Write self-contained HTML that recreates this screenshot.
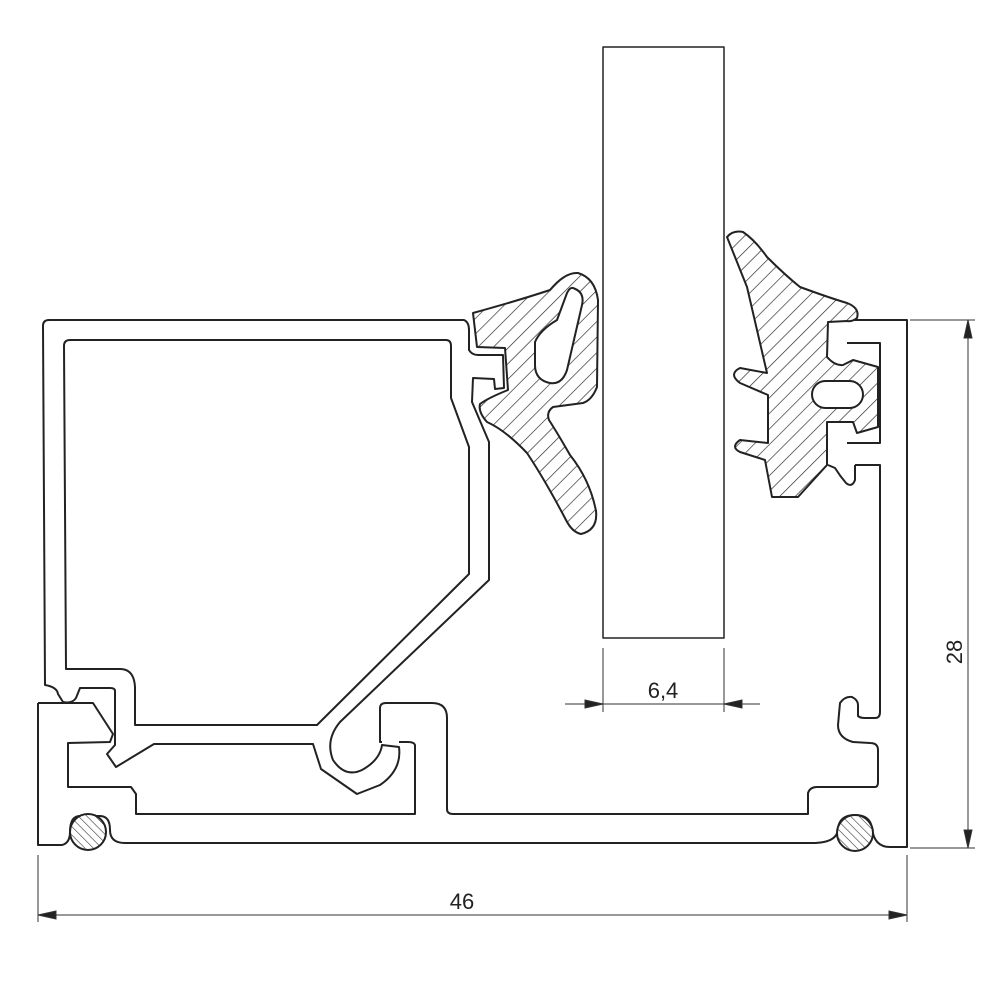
<!DOCTYPE html>
<html><head><meta charset="utf-8"><style>
html,body{margin:0;padding:0;background:#fff;}
svg{display:block;}
text{font-family:"Liberation Sans",sans-serif;fill:#222;}
</style></head><body>
<svg width="1000" height="1000" viewBox="0 0 1000 1000" xmlns="http://www.w3.org/2000/svg">
<defs>
<pattern id="h1" patternUnits="userSpaceOnUse" width="11" height="11" patternTransform="rotate(45)">
<rect width="11" height="11" fill="#fff"/><line x1="0" y1="0" x2="0" y2="11" stroke="#222" stroke-width="1.3"/></pattern>
<pattern id="h2" patternUnits="userSpaceOnUse" width="6" height="6" patternTransform="rotate(-45)">
<rect width="6" height="6" fill="#fff"/><line x1="0" y1="0" x2="0" y2="6" stroke="#222" stroke-width="1.1"/></pattern>
</defs>
<g fill="none" stroke="#222" stroke-width="2" stroke-linejoin="round">
<!-- glass -->
<rect x="603" y="47" width="121" height="591" stroke-width="1.5"/>
<!-- left chamber outer -->
<path d="M45,685 L43,326 Q43,320 49,320 L464,320 Q469,322 469,330 L469,350 Q472,355 478,355 L503,355 L504,388 L495,389 L494,379 L473,378 L472,402 L489,442 L489,580 L340,722 Q325,740 333,760 Q345,778 362,770 Q380,760 382,745 L399,747 Q402,770 380,785 L357,794 L321,769 L313,744 L154,744 L116,767 L107,754 L115,745 L115,691 Q115,688 110,688 L80,688 L76,698 Q72,704 63,702 L58,694 Q57,687 45,685 Z"/>
<!-- left chamber inner -->
<path d="M66,669 L64,346 Q64,340 70,340 L446,340 Q451,340 451,346 L451,398 L469,447 L469,574 L317,725 L135,725 L135,687 Q134,669 120,669 Z"/>
<!-- base frame -->
<path d="M38,703 L93,703 L113,734 L110,742 L68,743 L68,787 L131,787 L136,794 L136,814 L415,814 L415,745 Q414,742 408,742 L399,742"/>
<path d="M382,742 L380,742 L380,708 Q380,703 386,703 L432,703 Q447,703 447,718 L447,809 Q447,814 453,814 L808,814 L808,793 Q810,787 817,787 L875,787 Q878,787 878,782 L878,750 Q878,743 870,743 L853,742 Q838,738 838,725 L840,703 Q845,696 852,697 Q858,700 858,705 L858,716 Q860,718 865,718 L875,718 Q880,718 880,712 L880,465 L855,465"/>
<path d="M38,703 L38,845 L62,845 Q70,843 70,832 Q70,816 80,816 L100,816 Q110,816 110,830 Q110,843 125,843 L136,843"/>
<path d="M136,843 L812,843 Q838,843 838,828 Q840,815 855,815 Q870,815 872,828 Q874,847 890,847 L907,847 L907,320 L828,320"/>
<!-- right frame inner channel -->
<path d="M847,343 L880,343 L880,443 L847,443" />
<path d="M828,465 L835,468 Q840,476 846,483 Q852,488 855,480 L855,465"/>
<!-- O-rings -->
<circle cx="88" cy="832" r="18" fill="url(#h2)"/>
<circle cx="855" cy="833" r="18" fill="url(#h2)"/>
<!-- left seal -->
<path fill="url(#h1)" d="M473,313 Q520,300 550,290 Q565,272 578,273 Q595,278 598,300 L597,387 Q592,400 583,403 L553,407 Q546,412 549,420 Q558,434 570,455 Q590,480 596,511 Q598,530 581,534 Q572,532 566,520 Q545,480 527,453 Q505,430 487,422 Q478,412 480,404 Q488,398 508,390 L505,348 L477,347 Z"/>
<path fill="#fff" d="M573,288 Q585,292 582,305 L567,370 Q562,385 550,383 Q535,380 535,365 L535,342 Q540,330 557,320 L567,293 Q570,287 573,288 Z"/>
<!-- right seal -->
<path fill="url(#h1)" d="M727,237 Q733,230 743,232 Q755,240 767,257 Q785,275 800,287 Q830,298 847,303 Q860,308 857,318 Q852,322 847,321 L828,322 L827,357 Q835,366 843,365 L853,360 L878,367 L878,427 L857,433 L853,422 L827,422 L827,465 L798,497 L772,497 L765,460 L740,452 Q730,447 740,440 L768,443 L768,395 L740,383 Q728,374 740,368 L767,373 L747,287 Z"/>
<rect x="812" y="381" width="51" height="27" rx="13.5" fill="#fff"/>
</g>
<!-- dimensions -->
<g stroke="#333" stroke-width="1" fill="#222">
<line x1="603" y1="648" x2="603" y2="712"/><line x1="724" y1="648" x2="724" y2="712"/>
<line x1="565" y1="704" x2="760" y2="704"/>
<path d="M603,704 L585,700 L585,708 Z"/><path d="M724,704 L742,700 L742,708 Z"/>
<line x1="910" y1="320" x2="975" y2="320"/><line x1="910" y1="848" x2="975" y2="848"/>
<line x1="968" y1="320" x2="968" y2="848"/>
<path d="M968,320 L964,338 L972,338 Z"/><path d="M968,848 L964,830 L972,830 Z"/>
<line x1="38" y1="855" x2="38" y2="922"/><line x1="907" y1="855" x2="907" y2="922"/>
<line x1="38" y1="915" x2="907" y2="915"/>
<path d="M38,915 L56,911 L56,919 Z"/><path d="M907,915 L889,911 L889,919 Z"/>
</g>
<text x="663" y="698" font-size="22" text-anchor="middle">6,4</text>
<text x="462" y="909" font-size="22" text-anchor="middle">46</text>
<text x="0" y="0" font-size="22" text-anchor="middle" transform="translate(962,652) rotate(-90)">28</text>
</svg>
</body></html>
